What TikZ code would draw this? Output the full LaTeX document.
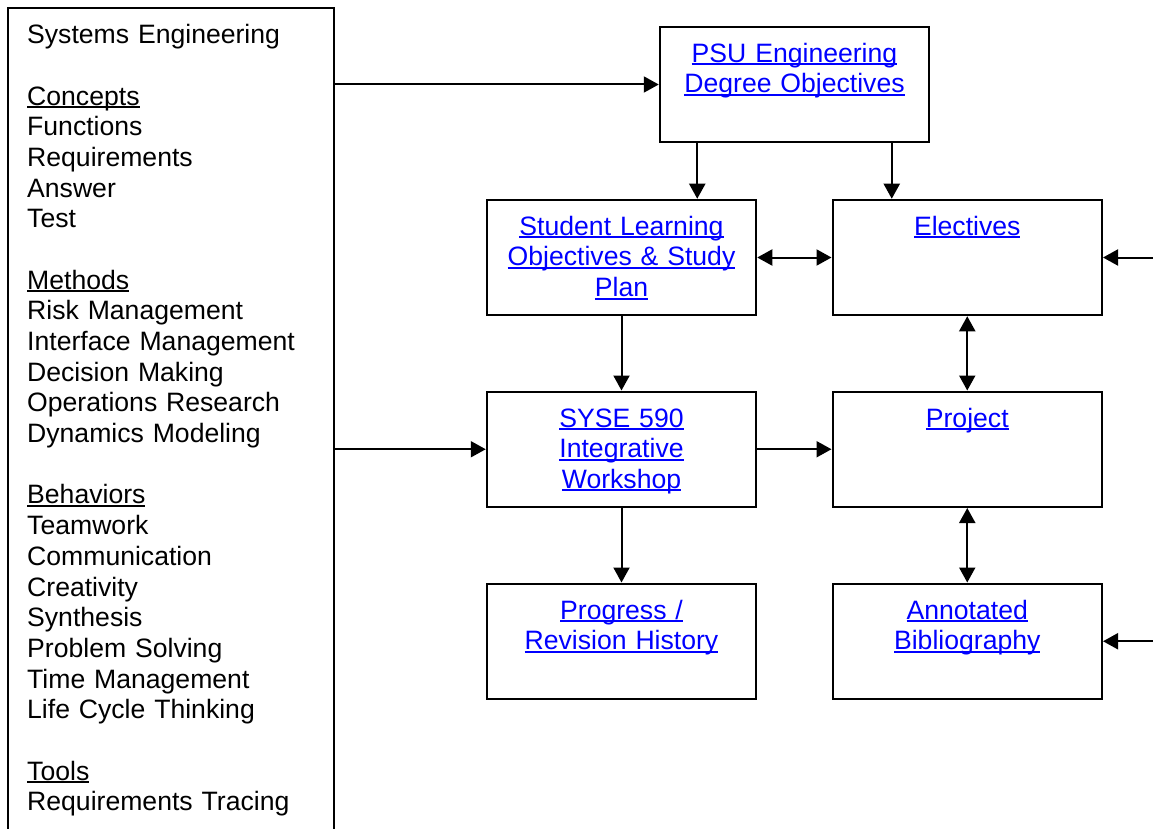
\documentclass[tikz,border=0pt]{standalone}
\usepackage{fontspec}
\setmainfont{Liberation Sans}
\usepackage{tikz}
\usetikzlibrary{arrows.meta}
\usetikzlibrary{calc}
\usetikzlibrary{positioning}
\usepackage{color}
\definecolor{linkblue}{RGB}{0,0,255}
\newcommand{\undl}[1]{\leavevmode\setbox0=\hbox{#1}\rlap{\rule[-0.115em]{\wd0}{0.075em}}\box0}

\begin{document}
\begin{tikzpicture}[x=1pt,y=-1pt,
    font=\fontsize{26.6}{30.68}\selectfont,
    >={Triangle[length=15pt,width=16pt]},
    box/.style={draw, line width=2pt, minimum width=269.5pt, minimum height=115.5pt, inner sep=0pt},
    link/.style={text=linkblue, text width=262pt, align=center, anchor=base, inner sep=0pt},
    conn/.style={line width=2pt}]
    \useasboundingbox (0,0) rectangle (1153,829);

    % Left column
    \node[minimum width=325.3pt, minimum height=842pt, inner sep=0pt] (frame) at (170.65,429) {};%
    \draw[line width=2pt] (frame.south west) -- (frame.north west) -- (frame.north east) -- (frame.south east);%
    \node[anchor=base west, text width=300pt, align=left, inner sep=0pt] (topics) at (27,43.8)
      {Systems Engineering\\[30.68pt]
       \undl{Concepts}\\ Functions\\ Requirements\\ Answer\\ Test\\[30.68pt]
       \undl{Methods}\\ Risk Management\\ Interface Management\\ Decision Making\\ Operations Research\\ Dynamics Modeling\\[30.68pt]
       \undl{Behaviors}\\ Teamwork\\ Communication\\ Creativity\\ Synthesis\\ Problem Solving\\ Time Management\\ Life Cycle Thinking\\[30.68pt]
       \undl{Tools}\\ Requirements Tracing};%

    % Boxes
    \node[box] (psu) at (794.5,84.5) {};%
    \node[box] (slo) at (621.5,257.5) {};%
    \node[box] (elec) at (967.25,257.5) {};%
    \node[box] (syse) at (621.5,449.25) {};%
    \node[box] (proj) at (967.25,449.25) {};%
    \node[box] (prog) at (621.5,641.25) {};%
    \node[box] (bib) at (967.25,641.25) {};%

    % Link texts
    \node[link] (psu-t) at ([yshift=-36.5pt]psu.north) {\undl{PSU Engineering}\\\undl{Degree Objectives}};%
    \node[link] (slo-t) at ([yshift=-36.5pt]slo.north) {\undl{Student Learning}\\\undl{Objectives \& Study}\\\undl{Plan}};%
    \node[link] (elec-t) at ([yshift=-36.5pt]elec.north) {\undl{Electives}};%
    \node[link] (syse-t) at ([yshift=-36.5pt]syse.north) {\undl{SYSE 590}\\\undl{Integrative}\\\undl{Workshop}};%
    \node[link] (proj-t) at ([yshift=-36.5pt]proj.north) {\undl{Project}};%
    \node[link] (prog-t) at ([yshift=-36.5pt]prog.north) {\undl{Progress /}\\\undl{Revision History}};%
    \node[link] (bib-t) at ([yshift=-36.5pt]bib.north) {\undl{Annotated}\\\undl{Bibliography}};%

    % Connectors
    \coordinate (psu-l) at ([xshift=38.5pt]psu.south west);%
    \coordinate (psu-r) at ([xshift=-38.5pt]psu.south east);%
    \coordinate (in-top) at (1153,257.5);%
    \coordinate (in-bot) at (1153,641.25);%
    \draw[conn,->] (frame.east |- psu.west) -- (psu.west);%
    \draw[conn,->] (frame.east |- syse.west) -- (syse.west);%
    \draw[conn,->] (psu-l) -- (psu-l |- slo.north);%
    \draw[conn,->] (psu-r) -- (psu-r |- elec.north);%
    \draw[conn,<->] (slo) -- (elec);%
    \draw[conn,->] (slo) -- (syse);%
    \draw[conn,<->] (elec) -- (proj);%
    \draw[conn,->] (syse) -- (proj);%
    \draw[conn,->] (syse) -- (prog);%
    \draw[conn,<->] (proj) -- (bib);%
    \draw[conn,->] (in-top) -- (elec.east);%
    \draw[conn,->] (in-bot) -- (bib.east);%
\end{tikzpicture}
\end{document}
